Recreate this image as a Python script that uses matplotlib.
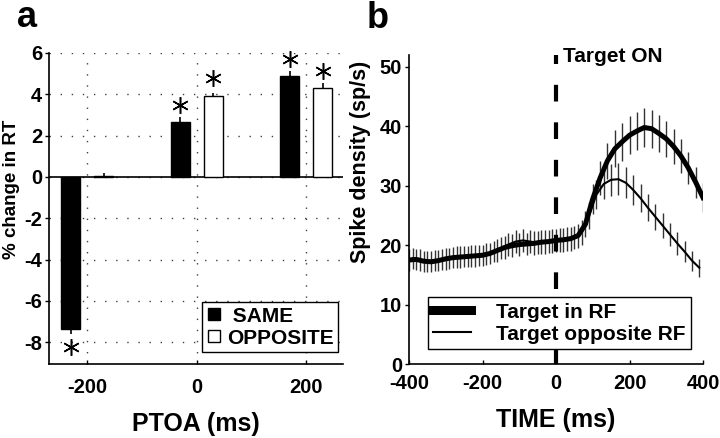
import matplotlib
matplotlib.use('Agg')
import matplotlib.pyplot as plt
from matplotlib.lines import Line2D
import numpy as np

plt.rcParams['font.family'] = ['Liberation Sans', 'DejaVu Sans']
plt.rcParams['font.weight'] = 'bold'
plt.rcParams['axes.unicode_minus'] = False

# panel a: % change in RT for each PTOA
ptoa = [-200, 0, 200]
same_rt = [-7.35, 2.66, 4.9]
same_err = [0.25, 0.25, 0.25]
opp_rt = [0.05, 3.93, 4.3]
opp_err = [0.15, 0.15, 0.25]
same_star = [-8.25, 3.48, 5.72]
opp_star = [np.nan, 4.8, 5.15]

# panel b: spike density (sp/s)
t_in = [-400, -380, -360, -340, -320, -300, -280, -260, -240, -220,
        -200, -180, -160, -140, -120, -100, -80, -60, -40, -20,
        0,
        20, 40, 60, 80, 100, 120, 140, 160, 180, 200,
        220, 240, 260, 280, 300, 320, 340, 360, 380, 400]
rate_in = [17.5, 17.6, 17.3, 17.2, 17.4, 17.7, 17.9, 18.0, 18.1, 18.2,
           18.3, 18.6, 19.1, 19.6, 19.9, 20.1, 20.2, 20.3, 20.5, 20.6,
           20.8,
           20.9, 21.1, 21.6, 23.5, 27.8, 31.3, 34.2, 36.2, 37.4, 38.5,
           39.2, 39.8, 39.6, 38.8, 37.9, 36.6, 35.0, 33.0, 30.6, 28.0]
err_in = [1.9, 1.8, 1.8, 1.8, 1.8, 1.8, 1.8, 1.8, 1.8, 1.8,
          1.8, 1.8, 1.9, 1.9, 1.9, 1.9, 1.9, 2.0, 2.0, 2.0,
          2.0,
          2.0, 2.0, 2.0, 2.2, 2.5, 2.8, 3.0, 3.1, 3.2, 3.2,
          3.2, 3.2, 3.2, 3.1, 3.0, 2.9, 2.8, 2.7, 2.6, 2.5]

t_opp = [-390, -370, -350, -330, -310, -290, -270, -250, -230, -210,
         -190, -170, -150, -130, -110, -90, -70, -50, -30, -10,
         10, 30, 50, 70, 90, 110, 130, 150, 170, 190,
         210, 230, 250, 270, 290, 310, 330, 350, 370, 390]
rate_opp = [17.8, 17.5, 17.3, 17.4, 17.6, 17.8, 18.0, 18.1, 18.2, 18.3,
            18.5, 18.9, 19.5, 20.1, 20.6, 20.8, 20.6, 20.4, 20.5, 20.7,
            20.9, 21.0, 21.3, 22.2, 25.0, 28.5, 30.3, 31.0, 31.1, 30.5,
            29.3, 27.9, 26.3, 24.8, 23.3, 21.8, 20.3, 18.9, 17.4, 16.2]
err_opp = [1.8, 1.8, 1.8, 1.8, 1.8, 1.8, 1.8, 1.8, 1.8, 1.8,
           1.8, 1.8, 1.9, 1.9, 1.9, 1.9, 1.9, 1.9, 2.0, 2.0,
           2.0, 2.0, 2.0, 2.1, 2.3, 2.5, 2.6, 2.7, 2.7, 2.6,
           2.5, 2.4, 2.3, 2.2, 2.1, 2.0, 1.9, 1.8, 1.7, 1.5]

fig = plt.figure(figsize=(7.2, 4.38), dpi=100)

# ---------- panel a ----------
axa = fig.add_axes([49/720, 74/438, 294/720, 311/438])
x = np.array(ptoa)
w = 35
off = 30
dots = (0, (1, 7))
axa.grid(True, ls=dots, color='0.25', lw=1, zorder=0)
axa.set_axisbelow(True)
axa.axhline(0, color='black', lw=1.2, zorder=2)

# error bars point away from zero
s_lo = [e if v < 0 else 0 for v, e in zip(same_rt, same_err)]
s_hi = [0 if v < 0 else e for v, e in zip(same_rt, same_err)]
o_lo = [e if v < 0 else 0 for v, e in zip(opp_rt, opp_err)]
o_hi = [0 if v < 0 else e for v, e in zip(opp_rt, opp_err)]

axa.bar(x - off, same_rt, w, color='black', edgecolor='black', lw=1, zorder=3)
axa.bar(x + off, opp_rt, w, color='white', edgecolor='black', lw=1, zorder=3)
axa.errorbar(x - off, same_rt, yerr=[s_lo, s_hi], fmt='none', ecolor='black',
             elinewidth=1.2, capsize=0, zorder=4)
axa.errorbar(x + off, opp_rt, yerr=[o_lo, o_hi], fmt='none', ecolor='black',
             elinewidth=1.2, capsize=0, zorder=4)
axa.plot(x - off, same_star, ls='none', marker=(6, 2, 0), ms=12, mew=1.1,
         color='black', clip_on=False, zorder=5)
axa.plot(x + off, opp_star, ls='none', marker=(6, 2, 0), ms=12, mew=1.1,
         color='black', clip_on=False, zorder=5)

axa.set_xlim(-270, 267)
axa.set_ylim(-9.05, 6.0)
axa.set_xticks(ptoa)
axa.set_yticks(range(-8, 7, 2))
axa.spines['top'].set_visible(False)
axa.spines['right'].set_visible(False)
axa.spines['left'].set_linewidth(1.2)
axa.spines['bottom'].set_linewidth(1.2)
axa.tick_params(axis='y', direction='out', length=3, width=1, pad=2, labelsize=14.5)
axa.tick_params(axis='x', direction='in', length=3, width=1, pad=10, labelsize=14.5)
axa.set_ylabel('% change in RT', fontsize=13.5, fontweight='bold')
axa.yaxis.set_label_coords(-0.100, 0.563)
axa.set_xlabel('PTOA (ms)', fontsize=18, fontweight='bold', labelpad=11)

hs = [Line2D([], [], ls='none', marker='s', ms=8, mfc='black', mec='black'),
      Line2D([], [], ls='none', marker='s', ms=8, mfc='white', mec='black')]
lga = axa.legend(hs, [' SAME', 'OPPOSITE'], loc='lower right',
                 bbox_to_anchor=(0.983, 0.039), frameon=True, fancybox=False,
                 edgecolor='black', framealpha=1, fontsize=15,
                 handlelength=0.7, handletextpad=0.3, labelspacing=0.15,
                 borderpad=0.2, borderaxespad=0)
lga.get_frame().set_linewidth(1)
lga.set_zorder(6)

# ---------- panel b ----------
axb = fig.add_axes([409/720, 74/438, 294/720, 309/438])
axb.vlines(t_in, np.array(rate_in) - np.array(err_in), np.array(rate_in) + np.array(err_in),
           color='0.2', lw=1, zorder=2)
axb.vlines(t_opp, np.array(rate_opp) - np.array(err_opp), np.array(rate_opp) + np.array(err_opp),
           color='0.2', lw=1, zorder=2)
axb.plot(t_opp, rate_opp, color='black', lw=1.5, zorder=3)
axb.plot(t_in, rate_in, color='black', lw=3.6, zorder=3)
axb.axvline(0, ymin=0, ymax=1, color='black', lw=3, ls=(0, (4, 5)), zorder=4)
axb.text(18, 50.8, 'Target ON', fontsize=15, fontweight='bold', va='baseline')

axb.set_xlim(-400, 400)
axb.set_ylim(0, 52)
axb.set_xticks([-400, -200, 0, 200, 400])
axb.set_yticks([0, 10, 20, 30, 40, 50])
axb.spines['top'].set_visible(False)
axb.spines['right'].set_visible(False)
axb.spines['left'].set_linewidth(1.2)
axb.spines['bottom'].set_linewidth(1.2)
axb.tick_params(axis='y', direction='out', length=3, width=1, pad=2, labelsize=14.5)
axb.tick_params(axis='x', direction='in', length=3, width=1, pad=7, labelsize=14.5)
axb.set_ylabel('Spike density (sp/s)', fontsize=15.5, fontweight='bold')
axb.yaxis.set_label_coords(-0.128, 0.654)
axb.set_xlabel('TIME (ms)', fontsize=18, fontweight='bold', labelpad=11)

hb = [Line2D([], [], color='black', lw=6.5), Line2D([], [], color='black', lw=1.5)]
lgb = axb.legend(hb, ['Target in RF', 'Target opposite RF'], loc='lower left',
                 bbox_to_anchor=(0.065, 0.049), frameon=True, fancybox=False,
                 edgecolor='black', framealpha=1, fontsize=15,
                 handlelength=1.8, handletextpad=1.2, labelspacing=0.15,
                 borderpad=0.25, borderaxespad=0)
lgb.get_frame().set_linewidth(1)
lgb.set_zorder(6)

fig.text(17/720, 1 - 27/438, 'a', fontsize=26, fontweight='bold', va='baseline')
fig.text(367/720, 1 - 1/438, 'b', fontsize=26, fontweight='bold', va='top')

fig.savefig('out.png', dpi=100)
